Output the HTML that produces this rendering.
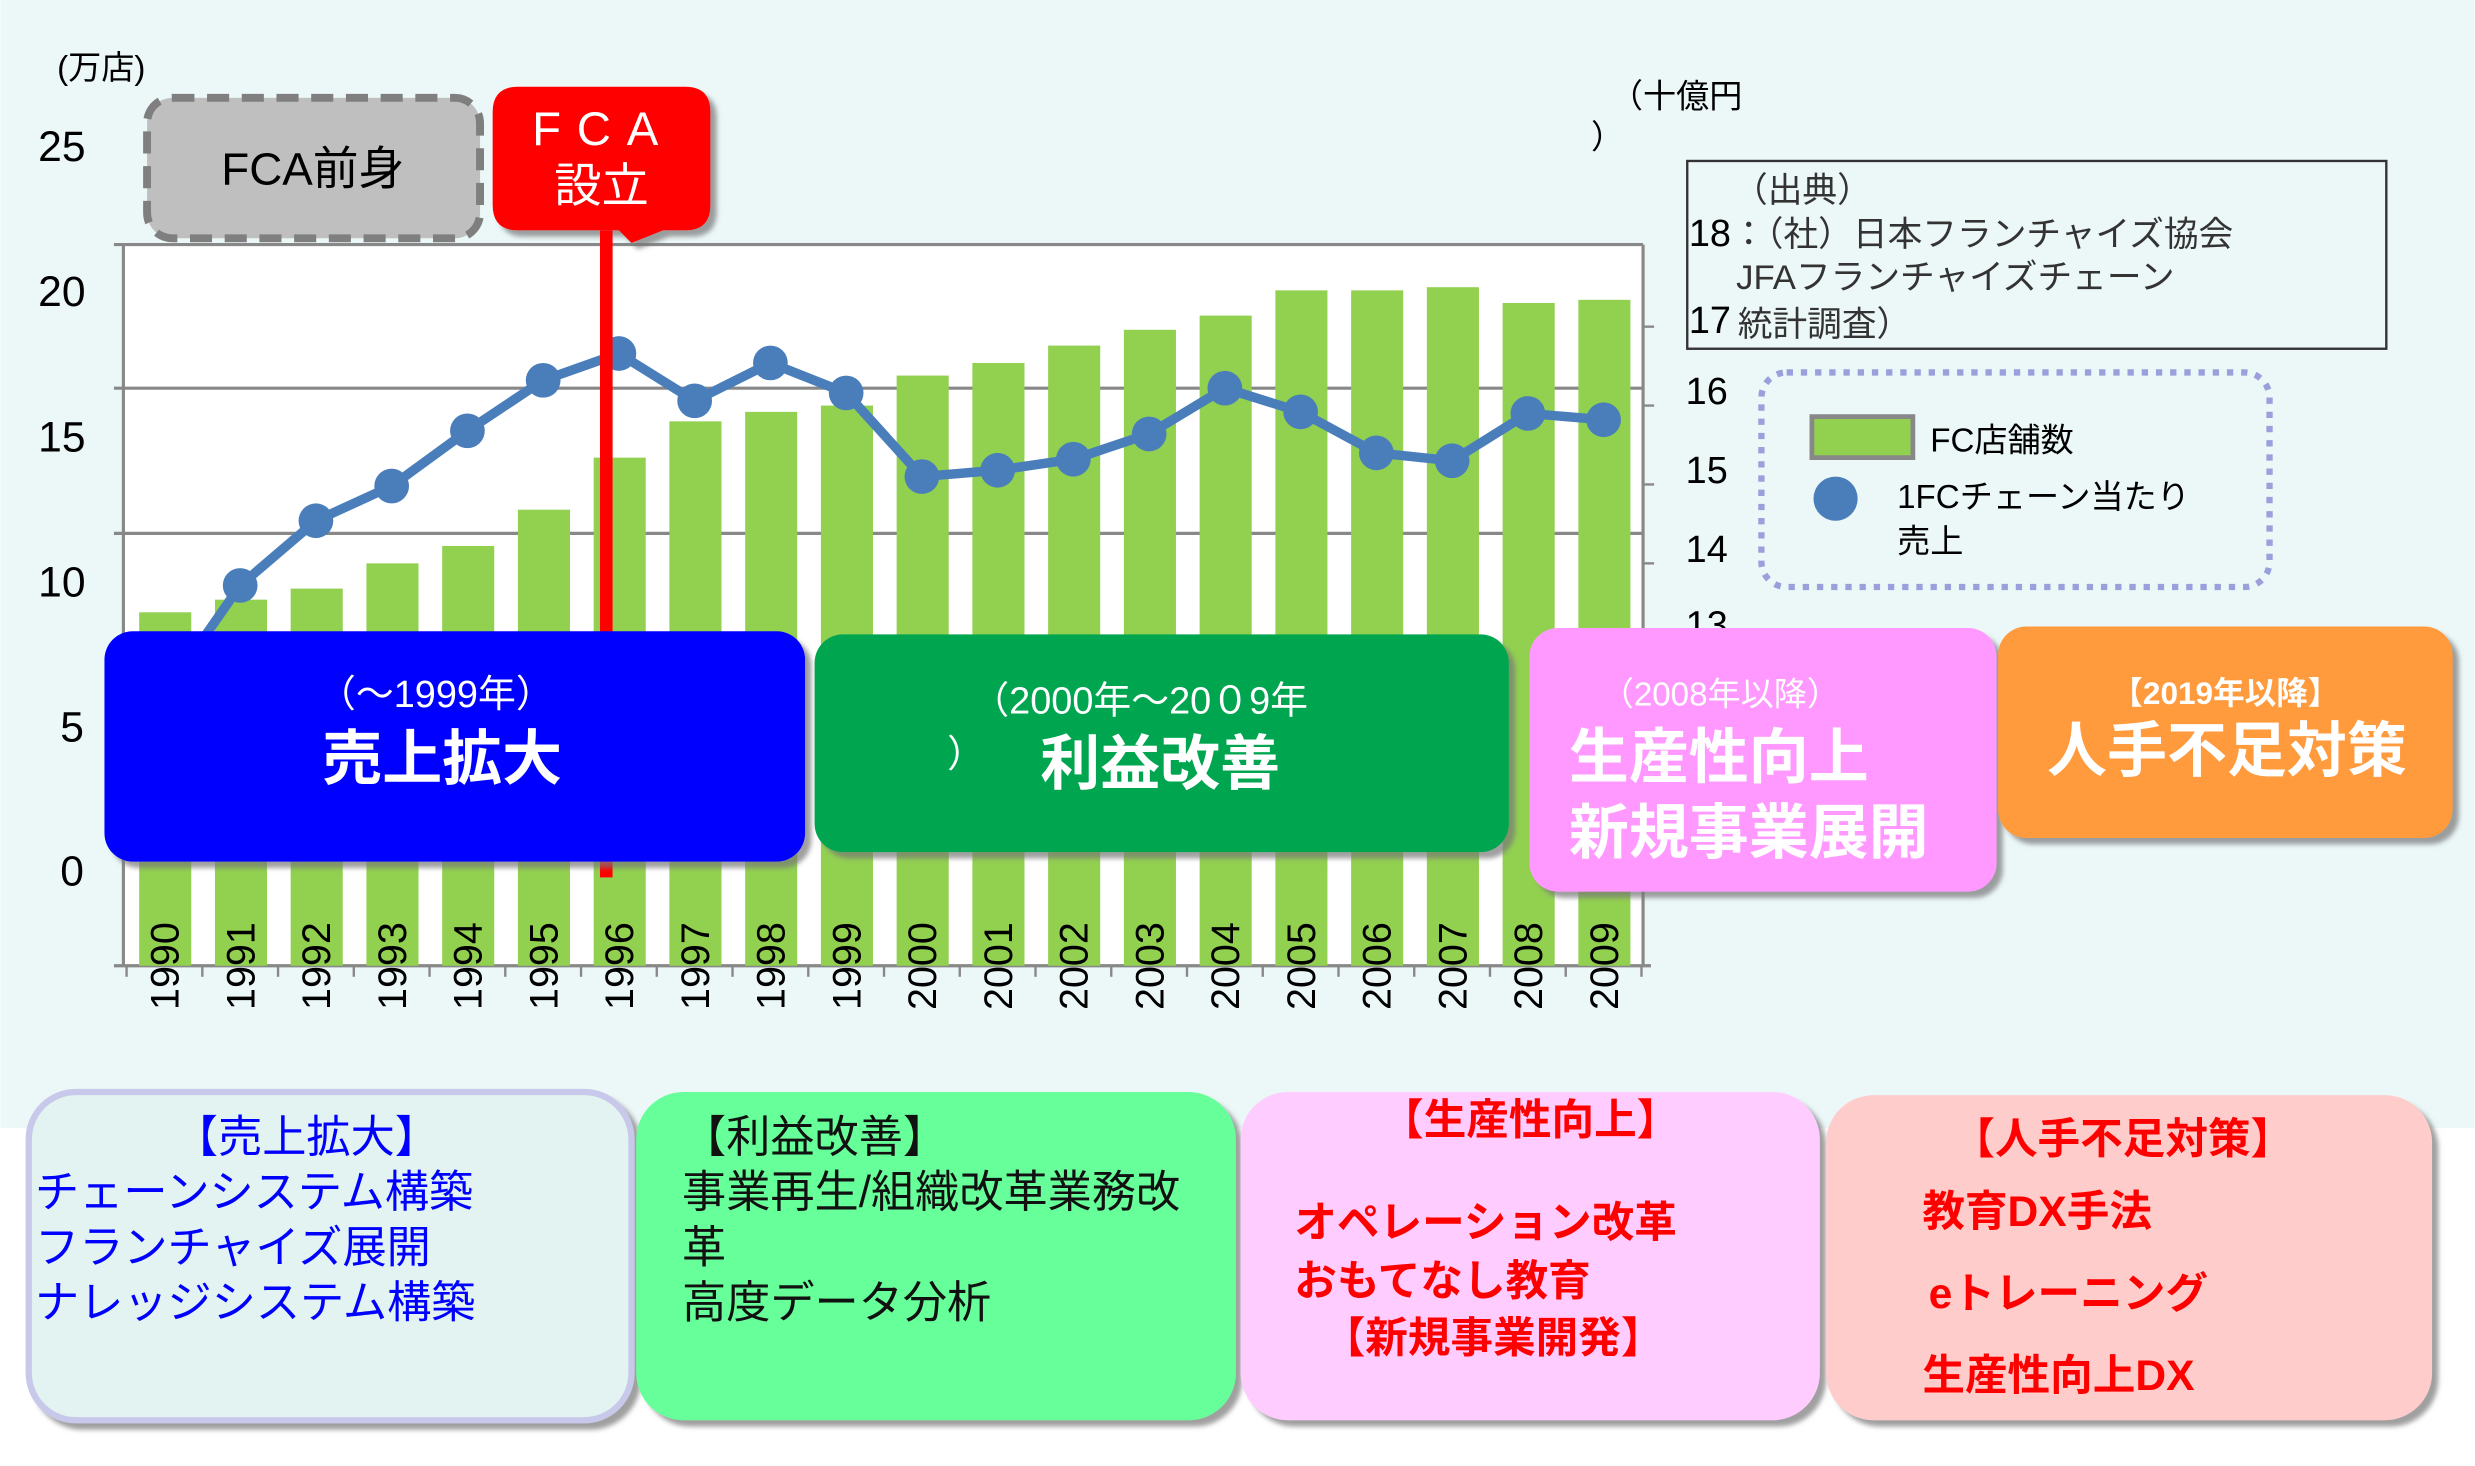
<!DOCTYPE html>
<html><head><meta charset="utf-8"><style>
html,body{margin:0;padding:0;background:#fff}
svg{display:block}
text{font-family:"Liberation Sans","Noto Sans CJK JP",sans-serif}
</style></head><body>
<svg width="2475" height="1466" viewBox="0 0 1568 929" xmlns="http://www.w3.org/2000/svg">
<defs>
<filter id="sh" x="-10%" y="-10%" width="130%" height="130%"><feDropShadow dx="4" dy="4" stdDeviation="1.5" flood-color="#777" flood-opacity="0.7"/></filter>
</defs>
<rect x="0" y="0" width="1568" height="715" fill="#ecf7f8"/>
<rect x="0" y="715" width="1568" height="214" fill="#ffffff"/>
<!-- plot -->
<rect x="78" y="155" width="963" height="457" fill="#fff"/>
<g stroke="#888" stroke-width="2">
<line x1="72" y1="155" x2="1041" y2="155"/>
<line x1="72" y1="246" x2="1041" y2="246"/>
<line x1="72" y1="338" x2="1041" y2="338"/>
<line x1="78" y1="155" x2="78" y2="612"/>
<line x1="1041" y1="155" x2="1041" y2="612"/>
<line x1="72" y1="612" x2="1046" y2="612"/>
</g>
<g stroke="#888" stroke-width="1.5">
<line x1="80" y1="612" x2="80" y2="619"/><line x1="128" y1="612" x2="128" y2="619"/><line x1="176" y1="612" x2="176" y2="619"/><line x1="224" y1="612" x2="224" y2="619"/><line x1="272" y1="612" x2="272" y2="619"/><line x1="320" y1="612" x2="320" y2="619"/><line x1="368" y1="612" x2="368" y2="619"/><line x1="416" y1="612" x2="416" y2="619"/><line x1="464" y1="612" x2="464" y2="619"/><line x1="512" y1="612" x2="512" y2="619"/><line x1="560" y1="612" x2="560" y2="619"/><line x1="608" y1="612" x2="608" y2="619"/><line x1="656" y1="612" x2="656" y2="619"/><line x1="704" y1="612" x2="704" y2="619"/><line x1="752" y1="612" x2="752" y2="619"/><line x1="800" y1="612" x2="800" y2="619"/><line x1="848" y1="612" x2="848" y2="619"/><line x1="896" y1="612" x2="896" y2="619"/><line x1="944" y1="612" x2="944" y2="619"/><line x1="992" y1="612" x2="992" y2="619"/><line x1="1040" y1="612" x2="1040" y2="619"/>
<line x1="1041" y1="207" x2="1048" y2="207"/><line x1="1041" y1="257" x2="1048" y2="257"/><line x1="1041" y1="307" x2="1048" y2="307"/><line x1="1041" y1="357" x2="1048" y2="357"/>
</g>
<g fill="#92d050">
<rect x="88" y="388" width="33" height="224"/><rect x="136" y="380" width="33" height="232"/><rect x="184" y="373" width="33" height="239"/><rect x="232" y="357" width="33" height="255"/><rect x="280" y="346" width="33" height="266"/><rect x="328" y="323" width="33" height="289"/><rect x="376" y="290" width="33" height="322"/><rect x="424" y="267" width="33" height="345"/><rect x="472" y="261" width="33" height="351"/><rect x="520" y="257" width="33" height="355"/><rect x="568" y="238" width="33" height="374"/><rect x="616" y="230" width="33" height="382"/><rect x="664" y="219" width="33" height="393"/><rect x="712" y="209" width="33" height="403"/><rect x="760" y="200" width="33" height="412"/><rect x="808" y="184" width="33" height="428"/><rect x="856" y="184" width="33" height="428"/><rect x="904" y="182" width="33" height="430"/><rect x="952" y="192" width="33" height="420"/><rect x="1000" y="190" width="33" height="422"/>
</g>
<polyline fill="none" stroke="#4a7ebb" stroke-width="6" stroke-linejoin="round" points="104,440 152,371 200,330 248,308 296,273 344,241 392,224 440,254 488,230 536,249 584,302 632,298 680,291 728,275 776,246 824,261 872,287 920,292 968,262 1016,266"/>
<g fill="#4a7ebb">
<circle cx="152" cy="371" r="11"/><circle cx="200" cy="330" r="11"/><circle cx="248" cy="308" r="11"/><circle cx="296" cy="273" r="11"/><circle cx="344" cy="241" r="11"/><circle cx="392" cy="224" r="11"/><circle cx="440" cy="254" r="11"/><circle cx="488" cy="230" r="11"/><circle cx="536" cy="249" r="11"/><circle cx="584" cy="302" r="11"/><circle cx="632" cy="298" r="11"/><circle cx="680" cy="291" r="11"/><circle cx="728" cy="275" r="11"/><circle cx="776" cy="246" r="11"/><circle cx="824" cy="261" r="11"/><circle cx="872" cy="287" r="11"/><circle cx="920" cy="292" r="11"/><circle cx="968" cy="262" r="11"/><circle cx="1016" cy="266" r="11"/>
</g>
<!-- year labels -->
<g font-size="25" fill="#000">
<text transform="translate(113,640) rotate(-90)">1990</text><text transform="translate(161,640) rotate(-90)">1991</text><text transform="translate(209,640) rotate(-90)">1992</text><text transform="translate(257,640) rotate(-90)">1993</text><text transform="translate(305,640) rotate(-90)">1994</text><text transform="translate(353,640) rotate(-90)">1995</text><text transform="translate(401,640) rotate(-90)">1996</text><text transform="translate(449,640) rotate(-90)">1997</text><text transform="translate(497,640) rotate(-90)">1998</text><text transform="translate(545,640) rotate(-90)">1999</text><text transform="translate(593,640) rotate(-90)">2000</text><text transform="translate(641,640) rotate(-90)">2001</text><text transform="translate(689,640) rotate(-90)">2002</text><text transform="translate(737,640) rotate(-90)">2003</text><text transform="translate(785,640) rotate(-90)">2004</text><text transform="translate(833,640) rotate(-90)">2005</text><text transform="translate(881,640) rotate(-90)">2006</text><text transform="translate(929,640) rotate(-90)">2007</text><text transform="translate(977,640) rotate(-90)">2008</text><text transform="translate(1025,640) rotate(-90)">2009</text>
</g>
<!-- left axis -->
<g font-size="27" fill="#000">
<text x="36" y="50" font-size="21">(万店)</text>
<text x="24" y="102">25</text><text x="24" y="194">20</text><text x="24" y="286">15</text><text x="24" y="378">10</text><text x="38" y="470">5</text><text x="38" y="561">0</text>
</g>
<!-- right axis -->
<g font-size="24" fill="#000">
<text x="1020" y="68" font-size="21">（十億円</text><text x="1008" y="94" font-size="21">）</text>
<text x="1068" y="256">16</text><text x="1068" y="306">15</text><text x="1068" y="356">14</text><text x="1068" y="404">13</text>
</g>
<!-- source box -->
<rect x="1069" y="102" width="443" height="119" fill="#ecf7f8" stroke="#333" stroke-width="1.5"/>
<g font-size="22" fill="#333">
<text x="1098" y="128">（出典）</text>
<text x="1070" y="156" font-size="24" fill="#000">18</text><text x="1097" y="156">：（社）日本フランチャイズ協会</text>
<text x="1100" y="183">JFAフランチャイズチェーン</text>
<text x="1070" y="211" font-size="24" fill="#000">17</text><text x="1101" y="213">統計調査）</text>
</g>
<!-- legend -->
<rect x="1116" y="236" width="322" height="136" rx="16" fill="#ecf7f8" stroke="#9aa0dc" stroke-width="4" stroke-dasharray="4,5"/>
<rect x="1148" y="264" width="64" height="26" fill="#92d050" stroke="#888" stroke-width="3"/>
<text x="1223" y="286" font-size="21">FC店舗数</text>
<circle cx="1163" cy="316" r="14" fill="#4a7ebb"/>
<text x="1202" y="322" font-size="21">1FCチェーン当たり</text>
<text x="1202" y="350" font-size="21">売上</text>
<!-- FCA boxes -->
<rect x="93" y="62" width="211" height="89" rx="16" fill="#bfbfbf" stroke="#7f7f7f" stroke-width="5" stroke-dasharray="14,8"/>
<text x="198" y="117" font-size="29" text-anchor="middle" fill="#000">FCA前身</text>
<g filter="url(#sh)">
<path d="M328,55 H434 Q450,55 450,71 V130 Q450,146 434,146 H420 L400,154 L392,146 H328 Q312,146 312,130 V71 Q312,55 328,55 Z" fill="#ff0000"/>
</g>
<text x="382" y="92" font-size="30" text-anchor="middle" fill="#fff" letter-spacing="10">FCA</text>
<text x="381" y="128" font-size="30" text-anchor="middle" fill="#fff">設立</text>
<rect x="380" y="146" width="8" height="410" fill="#ff0000"/>
<!-- era boxes -->
<g filter="url(#sh)">
<rect x="66" y="400" width="444" height="146" rx="18" fill="#0000ff"/>
<rect x="516" y="402" width="440" height="138" rx="18" fill="#00a64f"/>
<rect x="969" y="398" width="296" height="167" rx="18" fill="#ff99ff"/>
<rect x="1266" y="397" width="288" height="134" rx="18" fill="#ff9a3c"/>
</g>
<text x="276" y="448" font-size="24" text-anchor="middle" fill="#fff">（〜1999年）</text>
<text x="280" y="494" font-size="38" font-weight="bold" text-anchor="middle" fill="#fff">売上拡大</text>
<text x="722" y="452" font-size="24" text-anchor="middle" fill="#fff">（2000年〜20０9年</text>
<text x="600" y="486" font-size="24" fill="#fff">）</text>
<text x="735" y="497" font-size="38" font-weight="bold" text-anchor="middle" fill="#fff">利益改善</text>
<text x="1090" y="447" font-size="21" text-anchor="middle" fill="#fff">（2008年以降）</text>
<text x="994" y="493" font-size="38" font-weight="bold" fill="#fff">生産性向上</text>
<text x="994" y="541" font-size="38" font-weight="bold" fill="#fff">新規事業展開</text>
<text x="1410" y="446" font-size="20" font-weight="bold" text-anchor="middle" fill="#fff">【2019年以降】</text>
<text x="1411" y="489" font-size="38" font-weight="bold" text-anchor="middle" fill="#fff">人手不足対策</text>
<!-- bottom boxes -->
<g filter="url(#sh)">
<rect x="18" y="692" width="382" height="208" rx="30" fill="#e3f3f2" stroke="#c8c8ea" stroke-width="4"/>
<rect x="403" y="692" width="380" height="208" rx="30" fill="#66ff99"/>
<rect x="786" y="692" width="367" height="208" rx="30" fill="#ffccff"/>
<rect x="1157" y="694" width="384" height="206" rx="30" fill="#ffcccc"/>
</g>
<g font-size="28" fill="#0000ff">
<text x="110" y="730">【売上拡大】</text>
<text x="22" y="765">チェーンシステム構築</text>
<text x="22" y="800">フランチャイズ展開</text>
<text x="22" y="835">ナレッジシステム構築</text>
</g>
<g font-size="28" fill="#111">
<text x="432" y="730">【利益改善】</text>
<text x="432" y="765">事業再生/組織改革業務改</text>
<text x="432" y="800">革</text>
<text x="432" y="835">高度データ分析</text>
</g>
<g font-size="27" font-weight="bold" fill="#ff0000">
<text x="875" y="719">【生産性向上】</text>
<text x="820" y="784">オペレーション改革</text>
<text x="820" y="821">おもてなし教育</text>
<text x="838" y="857">【新規事業開発】</text>
<text x="1237" y="731">【人手不足対策】</text>
<text x="1218" y="777">教育DX手法</text>
<text x="1222" y="829">eトレーニング</text>
<text x="1218" y="881">生産性向上DX</text>
</g>
</svg>
</body></html>
